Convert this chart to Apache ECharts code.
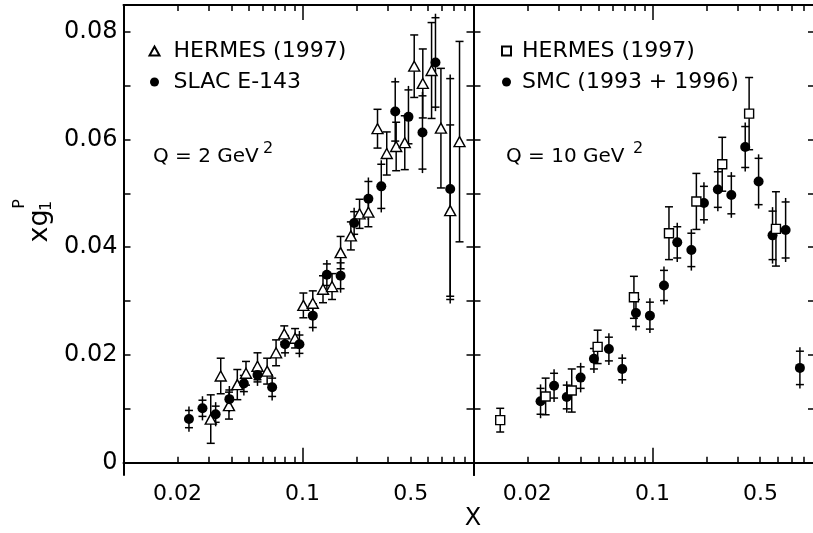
<!DOCTYPE html>
<html><head><meta charset="utf-8">
<script src="https://cdn.jsdelivr.net/npm/echarts@6/dist/echarts.min.js"></script>
<style>html,body{margin:0;padding:0;overflow:hidden;background:#fff}#c{width:820px;height:533px}</style>
</head><body><div id="c"></div><script>
// ---- tick definitions ----
const xMinorTicks = [0.02,0.03,0.04,0.05,0.06,0.07,0.08,0.09,0.2,0.3,0.4,0.5,0.6,0.7,0.8];
const xMajorTicks = [0.1];
const xTickLabels = [0.02, 0.1, 0.5];
const yTicks = [0,0.01,0.02,0.03,0.04,0.05,0.06,0.07,0.08];
const yTickLabels = [0,0.02,0.04,0.06,0.08];

// ---- Q^2 = 2 GeV^2 panel ----
const hermesLeftX   = [0.0307,0.0349,0.0388,0.0432,0.0483,0.056,0.0634,0.0711,0.079,0.0908,0.101,0.114,0.130,0.146,0.163,0.186,0.208,0.233,0.262,0.295,0.333,0.372,0.420,0.469,0.525,0.592,0.667,0.752];
const hermesLeftY   = [0.0081,0.0161,0.0106,0.0145,0.0166,0.0179,0.0170,0.0204,0.0239,0.0231,0.0292,0.0296,0.0322,0.0327,0.0390,0.0421,0.0462,0.0465,0.0620,0.0574,0.0587,0.0594,0.0736,0.0704,0.0728,0.0621,0.0468,0.0596];
const hermesLeftErr = [0.0045,0.0033,0.0025,0.0028,0.0022,0.0025,0.0024,0.0024,0.0015,0.0018,0.0023,0.0023,0.0025,0.0024,0.0030,0.0026,0.0027,0.0027,0.0036,0.0040,0.0045,0.0050,0.0058,0.0064,0.0089,0.0111,0.0159,0.0186];

const slacX   = [0.0232,0.0276,0.0327,0.039,0.047,0.056,0.0676,0.0798,0.096,0.114,0.1366,0.163,0.194,0.233,0.275,0.329,0.390,0.467,0.552,0.667];
const slacY   = [0.0081,0.0101,0.0090,0.0118,0.0147,0.0163,0.0140,0.0220,0.0220,0.0273,0.0349,0.0347,0.0445,0.0490,0.0513,0.0652,0.0642,0.0613,0.0743,0.0508];
const slacErr = [0.0016,0.0015,0.0015,0.0017,0.0015,0.0013,0.0017,0.0016,0.0017,0.0022,0.0020,0.0024,0.0021,0.0032,0.0041,0.0055,0.0050,0.0068,0.0083,0.0205];

// ---- Q^2 = 10 GeV^2 panel ----
const hermesRightX   = [0.0141,0.0253,0.0354,0.0494,0.0788,0.1237,0.176,0.2455,0.347,0.490];
const hermesRightY   = [0.0079,0.0123,0.0134,0.0215,0.0307,0.0426,0.0485,0.0554,0.0648,0.0434];
const hermesRightErr = [0.0022,0.0034,0.0040,0.0031,0.0039,0.0049,0.0052,0.0050,0.0067,0.0069];

const smcX   = [0.0237,0.0282,0.0332,0.0397,0.0471,0.0571,0.0678,0.0809,0.0968,0.116,0.1376,0.165,0.194,0.232,0.276,0.330,0.392,0.469,0.555,0.667];
const smcY   = [0.0114,0.0143,0.0122,0.0158,0.0193,0.0211,0.0174,0.0278,0.0273,0.0329,0.0409,0.0395,0.0482,0.0507,0.0497,0.0586,0.0522,0.0422,0.0432,0.0176];
const smcErr = [0.0024,0.0023,0.0022,0.0020,0.0019,0.0022,0.0020,0.0025,0.0025,0.0028,0.0029,0.0031,0.0031,0.0033,0.0035,0.0038,0.0043,0.0045,0.0052,0.0031];

const FONT = 'DejaVu Sans';
const Y_MIN = -0.00228, Y_MAX = 0.08496;

function zip(x, y, e) { return x.map((v, i) => e ? [v, y[i], e[i]] : [v, y[i]]); }

function errRender(kind) {
  return function (params, api) {
    const x = api.value(0), y = api.value(1), e = api.value(2);
    const hi = api.coord([x, y + e]), lo = api.coord([x, y - e]);
    const st = { stroke: '#000', lineWidth: 1.5 };
    const w = 4;
    const ch = [];
    if (kind === 'cap') {
      ch.push({ type: 'line', shape: { x1: hi[0], y1: hi[1], x2: lo[0], y2: lo[1] }, style: st });
      ch.push({ type: 'line', shape: { x1: hi[0] - w, y1: hi[1], x2: hi[0] + w, y2: hi[1] }, style: st });
      ch.push({ type: 'line', shape: { x1: lo[0] - w, y1: lo[1], x2: lo[0] + w, y2: lo[1] }, style: st });
    } else {
      const d = 4;
      ch.push({ type: 'line', shape: { x1: hi[0], y1: hi[1] - d, x2: lo[0], y2: lo[1] + d }, style: st });
      ch.push({ type: 'line', shape: { x1: hi[0] - w, y1: hi[1], x2: hi[0] + w, y2: hi[1] }, style: st });
      ch.push({ type: 'line', shape: { x1: lo[0] - w, y1: lo[1], x2: lo[0] + w, y2: lo[1] }, style: st });
    }
    return { type: 'group', children: ch };
  };
}

const tickLine = { color: '#000', width: 1.5 };
function xAxes(gridIndex, max) {
  const base = { type: 'log', logBase: 10, min: 0.01, max: max, gridIndex: gridIndex, splitLine: { show: false } };
  return [
    Object.assign({}, base, {
      position: 'bottom',
      axisLine: { show: true, lineStyle: { color: '#000', width: 2 } },
      axisTick: { show: true, inside: true, length: 6, customValues: xMinorTicks, lineStyle: tickLine },
      axisLabel: {
        show: true, customValues: xTickLabels, margin: 8, color: '#000', fontFamily: FONT, fontSize: 22,
        formatter: v => { const s = String(+(+v).toPrecision(3)); return Math.abs(v - 0.5) < 1e-6 ? '{s|' + s + '}' : s; },
        rich: { s: { fontFamily: FONT, fontSize: 22, color: '#000', padding: [0, 34, 0, 0] } }
      }
    }),
    Object.assign({}, base, {
      position: 'bottom', axisLine: { show: false },
      axisTick: { show: true, inside: true, length: 15, customValues: xMajorTicks, lineStyle: tickLine },
      axisLabel: { show: false }
    }),
    Object.assign({}, base, {
      position: 'top',
      axisLine: { show: true, lineStyle: { color: '#000', width: 2 } },
      axisTick: { show: true, inside: true, length: 6, customValues: xMinorTicks, lineStyle: tickLine },
      axisLabel: { show: false }
    }),
    Object.assign({}, base, {
      position: 'top', axisLine: { show: false },
      axisTick: { show: true, inside: true, length: 15, customValues: xMajorTicks, lineStyle: tickLine },
      axisLabel: { show: false }
    })
  ];
}
function yAxis(gridIndex, position, labels) {
  return {
    type: 'value', gridIndex: gridIndex, position: position, min: Y_MIN, max: Y_MAX,
    splitLine: { show: false },
    axisLine: { show: true, onZero: false, lineStyle: { color: '#000', width: 2 } },
    axisTick: { show: true, inside: true, length: 7, customValues: yTicks, lineStyle: tickLine },
    axisLabel: labels ? {
      show: true, customValues: yTickLabels, margin: 6, color: '#000', fontFamily: FONT, fontSize: 24,
      formatter: v => (Math.abs(v) < 1e-9 ? '0' : (+v).toFixed(2))
    } : { show: false }
  };
}

const openStyle = { color: '#fff', borderColor: '#000', borderWidth: 1.4, opacity: 1 };
const fillStyle = { color: '#000', opacity: 1 };

const option = {
  animation: false,
  backgroundColor: '#fff',
  grid: [
    { left: 123.5, top: 5, width: 350, height: 470 },
    { left: 473.5, top: 5, width: 341.5, height: 470 }
  ],
  xAxis: [].concat(xAxes(0, 0.9), xAxes(1, 0.81)),
  yAxis: [yAxis(0, 'left', true), yAxis(0, 'right', false), yAxis(1, 'left', false), yAxis(1, 'right', false)],
  legend: [
    {
      left: 148.5, top: 40, padding: 0, orient: 'vertical', itemWidth: 10, itemHeight: 9, itemGap: 9,
      selectedMode: false,
      textStyle: { fontFamily: FONT, fontSize: 22, color: '#000', padding: [0, 0, 0, 9] },
      data: [{ name: 'HERMES (1997)', icon: 'triangle' }, { name: 'SLAC E-143', icon: 'circle' }]
    },
    {
      left: 501, top: 40, padding: 0, orient: 'vertical', itemWidth: 9, itemHeight: 9, itemGap: 9,
      selectedMode: false,
      textStyle: { fontFamily: FONT, fontSize: 22, color: '#000', padding: [0, 0, 0, 6] },
      data: [{ name: 'HERMES (1997) ', icon: 'rect' }, { name: 'SMC (1993 + 1996)', icon: 'circle' }]
    }
  ],
  series: [
    { type: 'custom', xAxisIndex: 0, yAxisIndex: 0, renderItem: errRender('cap'), data: zip(hermesLeftX, hermesLeftY, hermesLeftErr), encode: { x: 0, y: 1 }, z: 1, silent: true },
    { type: 'custom', xAxisIndex: 0, yAxisIndex: 0, renderItem: errRender('plus'), data: zip(slacX, slacY, slacErr), encode: { x: 0, y: 1 }, z: 1, silent: true },
    { type: 'custom', xAxisIndex: 4, yAxisIndex: 2, renderItem: errRender('cap'), data: zip(hermesRightX, hermesRightY, hermesRightErr), encode: { x: 0, y: 1 }, z: 1, silent: true },
    { type: 'custom', xAxisIndex: 4, yAxisIndex: 2, renderItem: errRender('plus'), data: zip(smcX, smcY, smcErr), encode: { x: 0, y: 1 }, z: 1, silent: true },
    { name: 'HERMES (1997)', type: 'scatter', xAxisIndex: 0, yAxisIndex: 0, symbol: 'triangle', symbolSize: [11, 10], itemStyle: openStyle, data: zip(hermesLeftX, hermesLeftY), z: 3 },
    { name: 'SLAC E-143', type: 'scatter', xAxisIndex: 0, yAxisIndex: 0, symbol: 'circle', symbolSize: 10, itemStyle: fillStyle, data: zip(slacX, slacY), z: 4 },
    { name: 'HERMES (1997) ', type: 'scatter', xAxisIndex: 4, yAxisIndex: 2, symbol: 'rect', symbolSize: 9, itemStyle: openStyle, data: zip(hermesRightX, hermesRightY), z: 4 },
    { name: 'SMC (1993 + 1996)', type: 'scatter', xAxisIndex: 4, yAxisIndex: 2, symbol: 'circle', symbolSize: 10, itemStyle: fillStyle, data: zip(smcX, smcY), z: 3 }
  ],
  graphic: [
    { type: 'text', left: 153, top: 147, style: { text: 'Q = 2 GeV', fontFamily: FONT, fontSize: 20, fill: '#000' } },
    { type: 'text', left: 263, top: 141, style: { text: '2', fontFamily: FONT, fontSize: 16, fill: '#000' } },
    { type: 'text', left: 506, top: 147, style: { text: 'Q = 10 GeV', fontFamily: FONT, fontSize: 20, fill: '#000' } },
    { type: 'text', left: 633, top: 141, style: { text: '2', fontFamily: FONT, fontSize: 16, fill: '#000' } },
    { type: 'text', x: 40, y: 226, rotation: Math.PI / 2, style: { text: 'xg', fontFamily: FONT, fontSize: 27, fill: '#000', align: 'center', verticalAlign: 'middle' } },
    { type: 'text', x: 20, y: 204, rotation: Math.PI / 2, style: { text: 'P', fontFamily: FONT, fontSize: 16, fill: '#000', align: 'center', verticalAlign: 'middle' } },
    { type: 'text', x: 47, y: 206, rotation: Math.PI / 2, style: { text: '1', fontFamily: FONT, fontSize: 16, fill: '#000', align: 'center', verticalAlign: 'middle' } },
    { type: 'text', x: 473, y: 519, style: { text: 'X', fontFamily: FONT, fontSize: 24, fill: '#000', align: 'center', verticalAlign: 'middle' } }
  ]
};
const chart = echarts.init(document.getElementById('c'), null, { renderer: 'canvas' });
chart.setOption(option);
</script></body></html>
